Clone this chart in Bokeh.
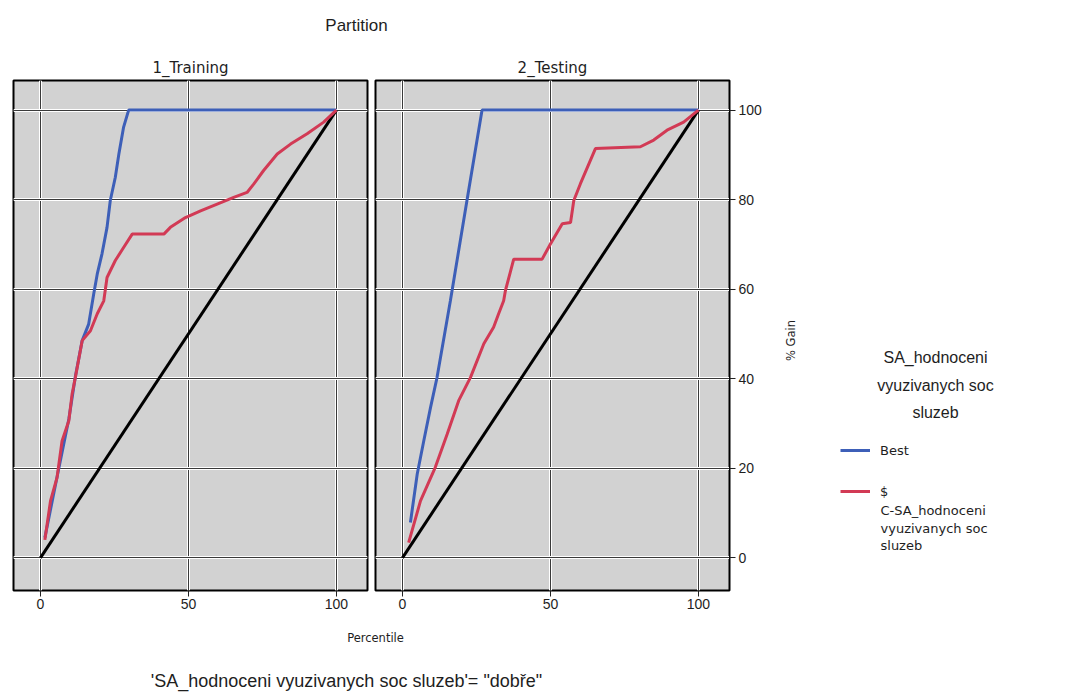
import math
from bokeh.plotting import figure
from bokeh.models import FixedTicker, Grid, Label, Legend, LegendItem, Range1d
from bokeh.layouts import column, row
from bokeh.embed import file_html
from bokeh.resources import INLINE

# ---------------- data ----------------
partitions = ["1_Training", "2_Testing"]
legend_title_lines = ["SA_hodnoceni", "vyuzivanych soc", "sluzeb"]
series_names = ["Best", "$"]
series2_name_rest = ["C-SA_hodnoceni", "vyuzivanych soc", "sluzeb"]

train_best_x = [1.5, 5.6, 9.6, 11.8, 14.1, 16.3, 18.0, 19.2, 20.8, 22.5, 23.6, 25.3, 26.5, 28.1, 29.8, 100]
train_best_y = [4.5, 18.0, 31.0, 40.5, 48.5, 52.2, 58.9, 63.4, 67.9, 73.8, 79.8, 85.0, 90.2, 96.2, 100, 100]

train_model_x = [1.5, 3.4, 5.6, 7.3, 9.6, 10.7, 11.8, 14.1, 16.9, 19.2, 21.4, 22.5, 25.3, 28.1, 31.0,
                 41.7, 43.9, 49.0, 54.1, 59.7, 65.3, 69.8, 72.1, 75.4, 80.0, 84.5, 90.1, 95.7, 100]
train_model_y = [4.0, 12.7, 17.9, 26.1, 30.6, 36.6, 40.3, 48.5, 50.7, 54.5, 57.4, 62.6, 66.4, 69.3, 72.3,
                 72.3, 73.8, 76.0, 77.5, 79.0, 80.5, 81.6, 83.5, 86.5, 90.2, 92.4, 94.7, 97.3, 100]

test_best_x = [2.7, 5.0, 7.2, 9.5, 11.7, 16.2, 21.8, 26.9, 100]
test_best_y = [7.9, 18.7, 26.1, 33.6, 40.3, 57.4, 79.8, 100, 100]

test_model_x = [2.1, 6.1, 11.1, 15.1, 19.0, 23.0, 27.5, 30.8, 32.5, 34.2, 34.8, 37.6, 47.2, 50.0,
                54.0, 56.8, 57.9, 60.1, 65.2, 80.4, 84.9, 89.4, 95.0, 100]
test_model_y = [3.4, 12.7, 20.2, 27.6, 35.1, 40.3, 47.8, 51.5, 54.5, 57.4, 59.7, 66.7, 66.7, 70.1,
                74.6, 74.9, 79.8, 83.5, 91.4, 91.8, 93.3, 95.5, 97.3, 100]

baseline_x = [0, 100]
baseline_y = [0, 100]

x_ticks = [0, 50, 100]
y_ticks = [0, 20, 40, 60, 80, 100]

# ---------------- styling ----------------
BLUE = "#3d5fb8"
RED = "#d23a55"
PANEL_BG = "#d2d2d2"
SANS = "Liberation Sans"
SMALL = "DejaVu Sans"
TXT = "#1e1e1e"
X_RANGE = (-9.1, 110.5)
Y_RANGE = (-7.3, 106.6)
ROW_H = 583
LW = 3


def blank(width, height, **kw):
    p = figure(width=width, height=height, toolbar_location=None, output_backend="svg",
               x_range=(0, 1), y_range=(0, 1), x_axis_location=None, y_axis_location=None,
               min_border=0, **kw)
    p.grid.visible = False
    p.outline_line_color = None
    return p


def panel(title, width, right_axis, mb_left, mb_right):
    p = figure(width=width, height=ROW_H, toolbar_location=None, output_backend="svg",
               x_range=Range1d(*X_RANGE), y_range=Range1d(*Y_RANGE),
               y_axis_location="right" if right_axis else None,
               min_border_left=mb_left, min_border_right=mb_right,
               min_border_top=33, min_border_bottom=40)
    p.title.text = title
    p.title.align = "center"
    p.title.text_font = SMALL
    p.title.text_font_size = "15px"
    p.title.text_font_style = "normal"
    p.title.text_color = TXT
    p.title.standoff = 8
    p.background_fill_color = PANEL_BG
    p.outline_line_color = "black"
    p.outline_line_width = 2
    p.grid.visible = False
    for dim, ticks in ((0, x_ticks), (1, y_ticks)):
        p.add_layout(Grid(dimension=dim, ticker=FixedTicker(ticks=ticks),
                          grid_line_color="white", grid_line_width=3))
        p.add_layout(Grid(dimension=dim, ticker=FixedTicker(ticks=ticks),
                          grid_line_color="#3a3a3a", grid_line_width=1))
    xa = p.xaxis[0]
    xa.ticker = FixedTicker(ticks=x_ticks)
    xa.axis_line_color = None
    xa.major_tick_out = 6
    xa.major_tick_in = 0
    xa.minor_tick_line_color = None
    xa.major_tick_line_color = "#222222"
    xa.major_label_standoff = 2
    xa.major_label_text_font = SANS
    xa.major_label_text_font_size = "14px"
    xa.major_label_text_color = TXT
    if right_axis:
        ya = p.yaxis[0]
        ya.ticker = FixedTicker(ticks=y_ticks)
        ya.axis_line_color = "black"
        ya.axis_line_width = 1
        ya.major_tick_out = 6
        ya.major_tick_in = 0
        ya.minor_tick_line_color = None
        ya.major_tick_line_color = "#222222"
        ya.major_label_standoff = 3
        ya.major_label_text_font = SANS
        ya.major_label_text_font_size = "14px"
        ya.major_label_text_color = TXT
    return p


# ---------------- top title ----------------
top = blank(1069, 47)
top.add_layout(Label(x=356, y=22, x_units="screen", y_units="screen", text="Partition",
                     text_align="center", text_baseline="middle",
                     text_font=SANS, text_font_size="17px", text_color=TXT))

# ---------------- panels ----------------
p1 = panel(partitions[0], 370, False, 13, 3)
p1.line(baseline_x, baseline_y, line_color="black", line_width=LW)
p1.line(train_best_x, train_best_y, line_color=BLUE, line_width=LW)
p1.line(train_model_x, train_model_y, line_color=RED, line_width=LW)

p2 = panel(partitions[1], 409, True, 5, 50)
p2.line(baseline_x, baseline_y, line_color="black", line_width=LW)
p2.line(test_best_x, test_best_y, line_color=BLUE, line_width=LW)
p2.line(test_model_x, test_model_y, line_color=RED, line_width=LW)

# ---------------- legend / y-title panel (frame aligned with the panels' frames) ----------------
leg = blank(290, ROW_H)
leg.add_layout(Label(x=11, y=250, x_units="screen", y_units="screen", text="% Gain",
                     angle=math.pi / 2, text_align="center", text_baseline="middle",
                     text_font=SMALL, text_font_size="11.5px", text_color=TXT))
for i, line in enumerate(legend_title_lines):
    leg.add_layout(Label(x=156, y=233 - 27.5 * i, x_units="screen", y_units="screen", text=line,
                         text_align="center", text_baseline="middle",
                         text_font=SANS, text_font_size="16px", text_color=TXT))

nan = float("nan")
k_best = leg.line(x=[nan], y=[nan], line_color=BLUE, line_width=LW)
k_model = leg.line(x=[nan], y=[nan], line_color=RED, line_width=LW)
legend = Legend(items=[LegendItem(label=series_names[0], renderers=[k_best]),
                       LegendItem(label=series_names[1], renderers=[k_model])],
                location=(61, 89), orientation="vertical",
                label_text_font=SMALL, label_text_font_size="13px", label_text_color=TXT,
                glyph_width=30, glyph_height=20, label_standoff=10, spacing=21,
                padding=0, margin=0, border_line_alpha=0, background_fill_alpha=0)
leg.add_layout(legend)
for i, line in enumerate(series2_name_rest):
    leg.add_layout(Label(x=101, y=80 - 17.5 * i, x_units="screen", y_units="screen", text=line,
                         text_align="left", text_baseline="middle",
                         text_font=SMALL, text_font_size="13px", text_color=TXT))

# ---------------- bottom texts ----------------
bottom = blank(1069, 70)
bottom.add_layout(Label(x=375, y=63, x_units="screen", y_units="screen", text="Percentile",
                        text_align="center", text_baseline="middle",
                        text_font=SMALL, text_font_size="11.5px", text_color=TXT))
bottom.add_layout(Label(x=346, y=20, x_units="screen", y_units="screen",
                        text="'SA_hodnoceni vyuzivanych soc sluzeb'= \"dobře\"",
                        text_align="center", text_baseline="middle",
                        text_font=SANS, text_font_size="18px", text_color=TXT))

layout = column(top, row(p1, p2, leg), bottom)
open("out.html", "w").write(file_html(layout, INLINE))
